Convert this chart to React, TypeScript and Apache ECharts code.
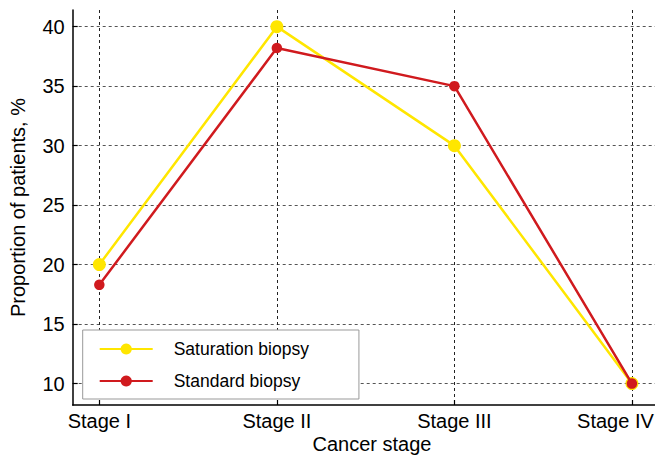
import React, { useEffect, useRef } from "react";
import * as echarts from "echarts";

const categories = ["Stage I", "Stage II", "Stage III", "Stage IV"];
const saturation = [20, 40, 30, 10];
const standard = [18.3, 38.2, 35, 10];
const yTicks = [10, 15, 20, 25, 30, 35, 40];
const xTicks = [0, 1, 2, 3];

const FONT = "Liberation Sans, Arial, sans-serif";

export default function App() {
  const ref = useRef<HTMLDivElement>(null);
  useEffect(() => {
    if (!ref.current) return;
    const chart = echarts.init(ref.current, null, { renderer: "svg" });
    chart.setOption({
      animation: false,
      backgroundColor: "#fff",
      textStyle: { fontFamily: FONT },
      grid: { left: 72.7, right: 0, top: 10, bottom: 50, containLabel: false, outerBoundsMode: "none" },
      xAxis: {
        type: "value",
        min: -0.15,
        max: 3.13,
        axisLine: { show: true, onZero: false, lineStyle: { color: "#000", width: 1.5 } },
        axisTick: {
          show: true,
          inside: true,
          length: 5,
          customValues: xTicks,
          lineStyle: { color: "#000", width: 1.2 },
        },
        axisLabel: {
          customValues: xTicks,
          formatter: (v: number) => {
            const i = Math.round(v);
            const s = categories[i] ?? "";
            return i === categories.length - 1 ? "{last|" + s + "}" : s;
          },
          rich: {
            last: { fontSize: 20, color: "#000", fontFamily: FONT, padding: [0, 33, 0, 0] },
          },
          fontSize: 20,
          color: "#000",
          fontFamily: FONT,
          margin: 6,
        },
        splitLine: {
          show: true,
          lineStyle: { color: "#222", type: [3, 3], width: 1 },
        },
      },
      yAxis: {
        type: "value",
        min: 8.2,
        max: 41.4,
        name: "Proportion of patients, %",
        nameLocation: "middle",
        nameGap: 45,
        nameTextStyle: { fontSize: 20, color: "#000", fontFamily: FONT },
        axisLine: { show: true, onZero: false, lineStyle: { color: "#000", width: 1.5 } },
        axisTick: {
          show: true,
          inside: true,
          length: 5,
          customValues: yTicks,
          lineStyle: { color: "#000", width: 1.2 },
        },
        axisLabel: {
          customValues: yTicks,
          fontSize: 20,
          color: "#000",
          fontFamily: FONT,
          margin: 8,
        },
        splitLine: {
          show: true,
          lineStyle: { color: "#555", type: [3, 3], width: 1 },
        },
      },
      legend: {
        orient: "vertical",
        left: 82.7,
        top: 330,
        backgroundColor: "#fff",
        borderColor: "#999",
        borderWidth: 1,
        borderRadius: 0,
        padding: [10, 50, 9, 16],
        itemWidth: 53,
        itemHeight: 14,
        itemGap: 14,
        textStyle: { fontSize: 17.5, color: "#000", fontFamily: FONT, padding: [0, 0, 0, 16] },
        data: ["Saturation biopsy", "Standard biopsy"],
      },
      graphic: [
        {
          type: "text",
          x: 372,
          y: 444,
          style: {
            text: "Cancer stage",
            fontSize: 20,
            fontFamily: FONT,
            fill: "#000",
            align: "center",
            verticalAlign: "middle",
          },
        },
      ],
      series: [
        {
          name: "Saturation biopsy",
          type: "line",
          data: saturation.map((v, i) => [i, v]),
          symbol: "circle",
          symbolSize: 13,
          lineStyle: { color: "#FFE600", width: 2.5 },
          itemStyle: { color: "#FFE600" },
          z: 2,
        },
        {
          name: "Standard biopsy",
          type: "line",
          data: standard.map((v, i) => [i, v]),
          symbol: "circle",
          symbolSize: 10.5,
          lineStyle: { color: "#D01A1E", width: 2.5 },
          itemStyle: { color: "#D01A1E" },
          z: 3,
        },
      ],
    });
    return () => chart.dispose();
  }, []);
  return <div ref={ref} style={{ width: 655, height: 455, position: "absolute", left: 0, top: 0 }} />;
}
